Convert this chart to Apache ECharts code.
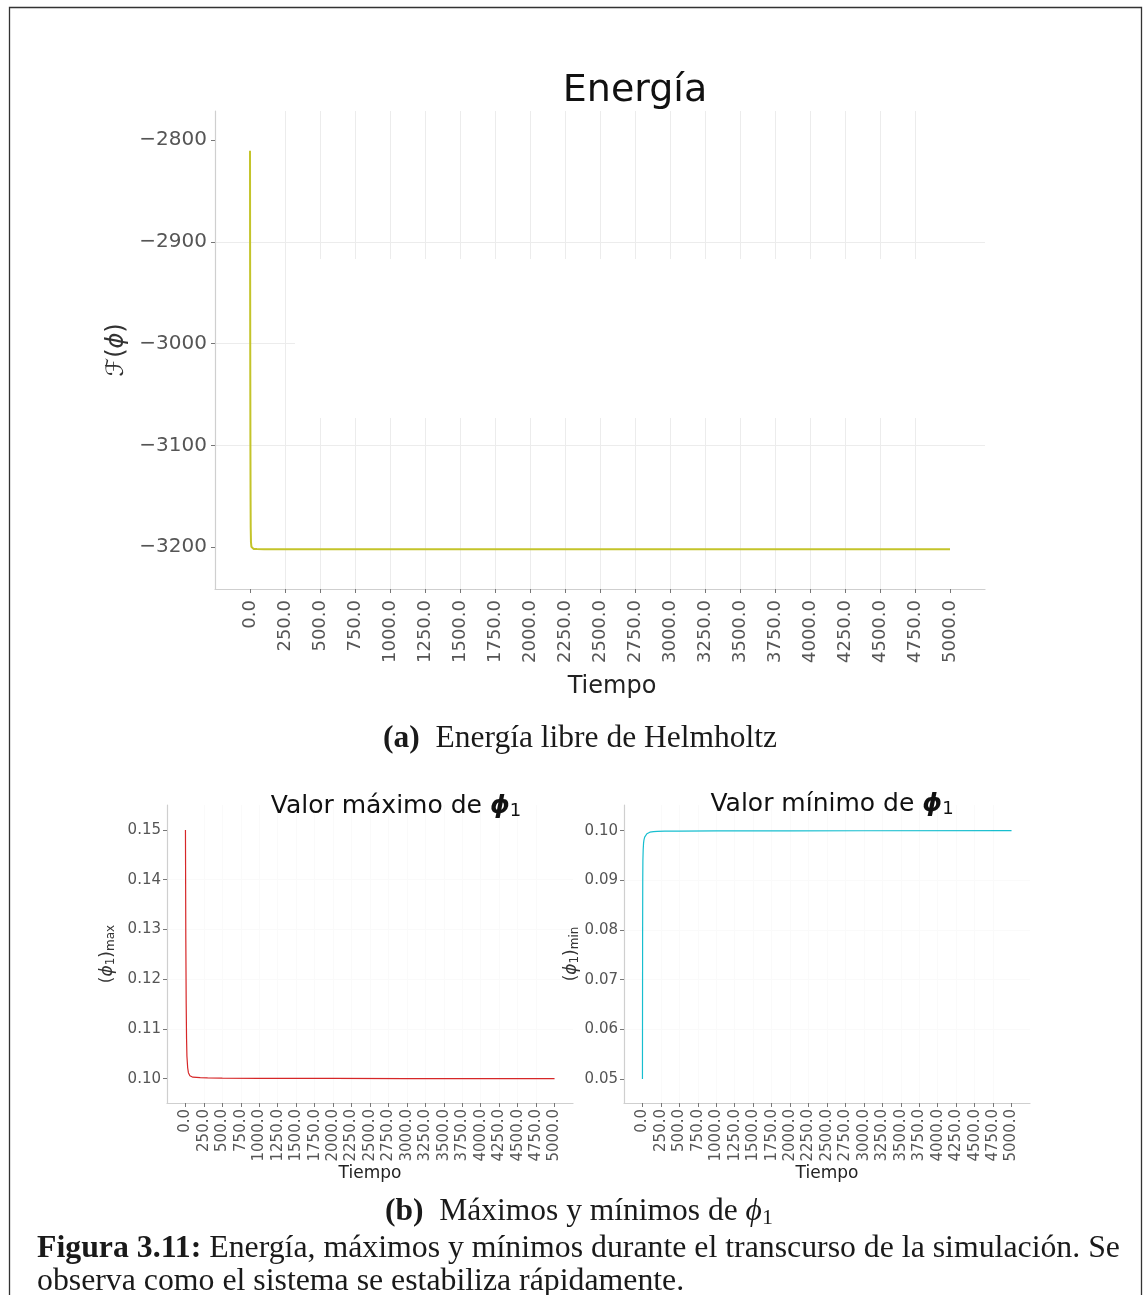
<!DOCTYPE html>
<html>
<head>
<meta charset="utf-8">
<script src="https://cdn.jsdelivr.net/npm/echarts@6/dist/echarts.min.js"></script>
<style>
  html, body { margin: 0; padding: 0; background: #ffffff; }
  #fig { width: 1144px; height: 1295px; }
</style>
</head>
<body>
<div id="fig"></div>
<script>
// ---- data -------------------------------------------------------------
// time ticks shared by all three panels
const timeTicks = [0, 250, 500, 750, 1000, 1250, 1500, 1750, 2000, 2250, 2500,
  2750, 3000, 3250, 3500, 3750, 4000, 4250, 4500, 4750, 5000];

// (a) Helmholtz free energy
const energyTicks = [-3200, -3100, -3000, -2900, -2800];
const energyTime  = [0, 1, 2, 3, 4, 5, 7, 10, 15, 25, 50, 100, 250, 500, 1000, 2000, 3000, 4000, 5000];
const energyValue = [-2810.5, -2930, -3030, -3100, -3150, -3180, -3195, -3199.5, -3201, -3201.6,
  -3201.8, -3201.9, -3202, -3202, -3202, -3202, -3202, -3202, -3202];

// (b) maximum of phi_1
const maxTicks  = [0.10, 0.11, 0.12, 0.13, 0.14, 0.15];
const maxTime   = [0, 5, 10, 15, 20, 30, 40, 60, 80, 100, 150, 200, 300, 500, 1000, 2000, 3000, 4000, 5000];
const maxValue  = [0.150, 0.128, 0.115, 0.108, 0.1045, 0.1022, 0.1012, 0.1006, 0.1004, 0.1003,
  0.10025, 0.1002, 0.10015, 0.1001, 0.10008, 0.10005, 0.10003, 0.10002, 0.1000];

// (b) minimum of phi_1
const minTicks  = [0.05, 0.06, 0.07, 0.08, 0.09, 0.10];
const minTime   = [0, 2, 4, 6, 10, 15, 20, 30, 40, 60, 80, 100, 150, 200, 300, 500, 1000, 2000, 3000, 5000];
const minValue  = [0.050, 0.078, 0.090, 0.094, 0.0962, 0.0975, 0.0981, 0.0987, 0.0991, 0.0994,
  0.0996, 0.0997, 0.0998, 0.09985, 0.0999, 0.09993, 0.09996, 0.09998, 0.09999, 0.1000];

// ---- styling helpers -------------------------------------------------
const SANS = 'DejaVu Sans';
const SERIF = 'Liberation Serif';
const zip = (xs, ys) => xs.map((x, i) => [x, ys[i]]);
const minus = v => String(v).replace('-', '\u2212');

function timeAxis(gridIndex, opts) {
  return {
    type: 'value', gridIndex,
    min: -250, max: 5250, interval: 250,
    name: 'Tiempo', nameLocation: 'middle', nameGap: opts.nameGap,
    nameTextStyle: { fontFamily: SANS, fontSize: opts.nameSize, color: '#222', padding: opts.namePad || 0 },
    axisLine: { show: true, onZero: false, lineStyle: { color: '#cfcfcf', width: 1.2 } },
    axisTick: { show: true, length: 4, customValues: timeTicks, lineStyle: { color: '#777' } },
    axisLabel: {
      customValues: timeTicks, rotate: 90, margin: opts.labelMargin,
      fontFamily: SANS, fontSize: opts.labelSize, color: '#555',
      formatter: v => v.toFixed(1)
    },
    splitLine: { show: true, showMinLine: false, showMaxLine: false,
      lineStyle: { color: opts.gridColor, width: 1 } }
  };
}

function valueAxis(gridIndex, opts) {
  return {
    type: 'value', gridIndex,
    min: opts.min, max: opts.max,
    name: opts.name, nameLocation: 'middle', nameGap: opts.nameGap,
    nameTextStyle: { fontFamily: SANS, fontSize: opts.nameSize, color: '#333', rich: opts.rich },
    axisLine: { show: true, onZero: false, lineStyle: { color: '#cfcfcf', width: 1.2 } },
    axisTick: { show: true, length: 4, customValues: opts.ticks, lineStyle: { color: '#777' } },
    axisLabel: {
      customValues: opts.ticks, margin: opts.labelMargin, padding: opts.labelPad || 0,
      fontFamily: SANS, fontSize: opts.labelSize, color: '#555',
      formatter: opts.formatter
    },
    splitLine: { show: true, showMinLine: false, showMaxLine: false,
      lineStyle: { color: opts.gridColor, width: 1 } }
  };
}

const subRich = {
  i: { fontFamily: SANS, fontStyle: 'italic', fontSize: 17, color: '#333' },
  s: { fontFamily: SANS, fontSize: 12, color: '#333', verticalAlign: 'bottom', padding: [6, 0, 0, 0] }
};

function titleText(x, y, parts, size) {
  return {
    type: 'text', x, y, z: 10,
    style: {
      text: parts, align: 'center', textAlign: 'center',
      verticalAlign: 'middle', textVerticalAlign: 'middle',
      fontFamily: SANS, fontSize: size, fill: '#111',
      rich: {
        i: { fontFamily: SANS, fontStyle: 'italic', fontWeight: 'bold', fontSize: size, fill: '#111' },
        s: { fontFamily: SANS, fontSize: Math.round(size * 0.7), fill: '#111',
             verticalAlign: 'bottom', padding: [Math.round(size * 0.45), 0, 0, 0] }
      }
    }
  };
}

function captionText(x, y, text, size, align) {
  return {
    type: 'text', x, y, z: 10,
    style: {
      text, align, textAlign: align,
      verticalAlign: 'middle', textVerticalAlign: 'middle',
      fontFamily: SERIF, fontSize: size, fill: '#1a1a1a',
      rich: {
        b: { fontFamily: SERIF, fontWeight: 'bold', fontSize: size, fill: '#1a1a1a' },
        i: { fontFamily: SERIF, fontStyle: 'italic', fontSize: size, fill: '#1a1a1a' },
        s: { fontFamily: SERIF, fontSize: Math.round(size * 0.7), fill: '#1a1a1a',
             verticalAlign: 'bottom', padding: [Math.round(size * 0.4), 0, 0, 0] }
      }
    }
  };
}

// ---- chart -------------------------------------------------------------
const chart = echarts.init(document.getElementById('fig'), null, { renderer: 'canvas' });

chart.setOption({
  backgroundColor: '#ffffff',
  animation: false,
  grid: [
    { left: 215, top: 111, width: 770, height: 478, outerBoundsMode: 'none', containLabel: false },
    { left: 167, top: 805, width: 406, height: 298, outerBoundsMode: 'none', containLabel: false },
    { left: 624, top: 805, width: 406, height: 298, outerBoundsMode: 'none', containLabel: false }
  ],
  xAxis: [
    timeAxis(0, { nameGap: 86, nameSize: 24, namePad: [0, 0, 0, 24], labelMargin: 11, labelSize: 18, gridColor: '#ececec' }),
    timeAxis(1, { nameGap: 53, nameSize: 17, labelMargin: 6, labelSize: 15, gridColor: '#fafafa' }),
    timeAxis(2, { nameGap: 53, nameSize: 17, labelMargin: 6, labelSize: 15, gridColor: '#fafafa' })
  ],
  yAxis: [
    valueAxis(0, {
      min: -3241, max: -2771.5, ticks: energyTicks,
      name: '\u2131({i|\u03d5})', nameGap: 86, nameSize: 24,
      rich: { i: { fontFamily: SANS, fontStyle: 'italic', fontSize: 24, color: '#333' } },
      labelMargin: 8, labelSize: 20, labelPad: [4, 0, 0, 0], gridColor: '#ececec',
      formatter: v => minus(v)
    }),
    valueAxis(1, {
      min: 0.09511, max: 0.15503, ticks: maxTicks,
      name: '({i|\u03d5}{s|1}){s|max}', nameGap: 50, nameSize: 17, rich: subRich,
      labelMargin: 6, labelSize: 15, gridColor: '#fafafa',
      formatter: v => v.toFixed(2)
    }),
    valueAxis(2, {
      min: 0.04517, max: 0.10518, ticks: minTicks,
      name: '({i|\u03d5}{s|1}){s|min}', nameGap: 42, nameSize: 17, rich: subRich,
      labelMargin: 6, labelSize: 15, gridColor: '#fafafa',
      formatter: v => v.toFixed(2)
    })
  ],
  series: [
    { type: 'line', name: 'Energía', xAxisIndex: 0, yAxisIndex: 0, data: zip(energyTime, energyValue),
      showSymbol: false, smooth: false, lineStyle: { color: '#c4c42a', width: 2 }, z: 3 },
    { type: 'line', name: 'max', xAxisIndex: 1, yAxisIndex: 1, data: zip(maxTime, maxValue),
      showSymbol: false, smooth: false, lineStyle: { color: '#d62728', width: 1.2 }, z: 3 },
    { type: 'line', name: 'min', xAxisIndex: 2, yAxisIndex: 2, data: zip(minTime, minValue),
      showSymbol: false, smooth: false, lineStyle: { color: '#17becf', width: 1.2 }, z: 3 }
  ],
  graphic: [
    // page frame
    { type: 'polyline', z: 10, shape: { points: [[9.5, 1295], [9.5, 7.5], [1141.5, 7.5], [1141.5, 1295]] },
      style: { stroke: '#333', lineWidth: 1.3, fill: null } },
    // blank panel sitting over the energy grid
    { type: 'rect', z: 1, shape: { x: 295, y: 259, width: 691, height: 159 },
      style: { fill: '#ffffff' } },
    // panel titles
    titleText(635, 91, 'Energía', 38),
    titleText(396, 806, 'Valor máximo de {i|\u03d5}{s|1}', 25),
    titleText(832, 804, 'Valor mínimo de {i|\u03d5}{s|1}', 25),
    // captions
    captionText(580, 739, '{b|(a)}  Energía libre de Helmholtz', 31.5, 'center'),
    captionText(579, 1212, '{b|(b)}  Máximos y mínimos de {i|\u03d5}{s|1}', 31.5, 'center'),
    captionText(37, 1249, '{b|Figura 3.11:} Energía, máximos y mínimos durante el transcurso de la simulación. Se', 31.8, 'left'),
    captionText(37, 1282, 'observa como el sistema se estabiliza rápidamente.', 31.8, 'left')
  ]
});
</script>
</body>
</html>
